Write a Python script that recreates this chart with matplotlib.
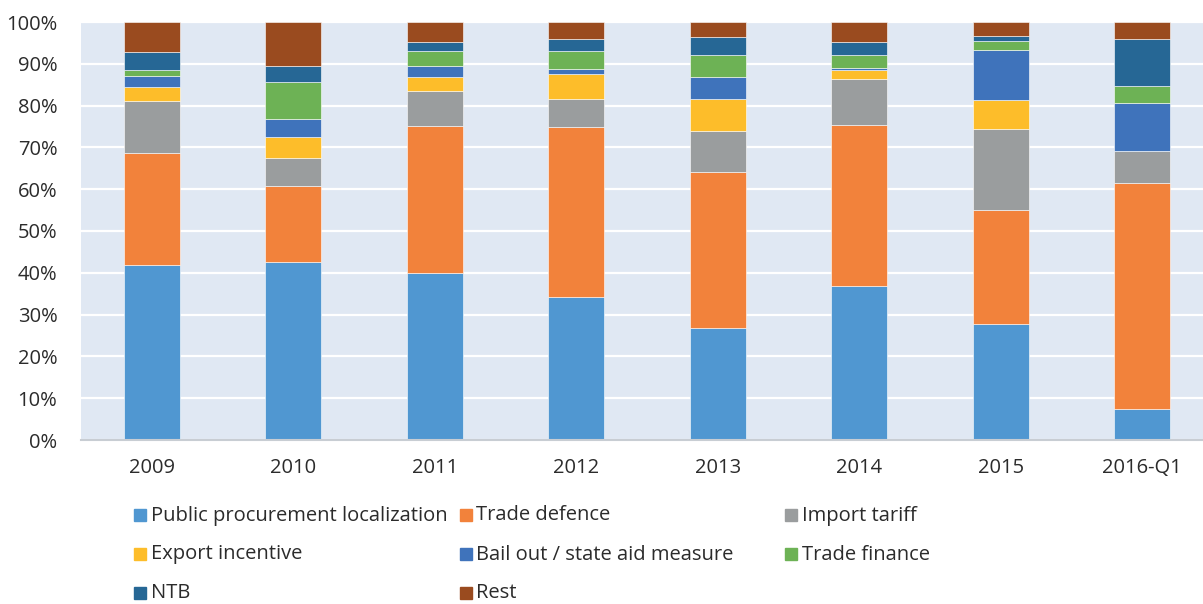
import numpy as np
import matplotlib
matplotlib.use('Agg')
import matplotlib.pyplot as plt
from matplotlib.patches import Rectangle

plt.rcParams['font.family'] = ['Open Sans', 'DejaVu Sans']

# 数据（单位：%）
years = ['2009', '2010', '2011', '2012', '2013', '2014', '2015', '2016-Q1']
series = ['Public procurement localization', 'Trade defence', 'Import tariff',
          'Export incentive', 'Bail out / state aid measure', 'Trade finance',
          'NTB', 'Rest']
public_proc = [41.9, 42.7, 40.0, 34.3, 26.7, 36.9, 27.8, 7.4]
trade_def = [26.8, 18.1, 35.2, 40.5, 37.5, 38.5, 27.3, 54.2]
import_tariff = [12.5, 6.7, 8.2, 6.8, 9.8, 11.0, 19.3, 7.5]
export_inc = [3.3, 5.0, 3.4, 6.0, 7.6, 2.0, 6.9, 0.0]
bail_out = [2.7, 4.2, 2.7, 1.2, 5.2, 0.7, 11.9, 11.6]
trade_fin = [1.2, 9.0, 3.5, 4.2, 5.4, 3.1, 2.3, 3.9]
ntb = [4.5, 3.8, 2.1, 2.9, 4.1, 2.9, 1.2, 11.3]
rest = [7.1, 10.5, 4.9, 4.1, 3.7, 4.9, 3.3, 4.1]

values = [public_proc, trade_def, import_tariff, export_inc,
          bail_out, trade_fin, ntb, rest]
colors = ['#5097D1', '#F2823B', '#9A9D9E', '#FDBD2A',
          '#3F73BB', '#6DB255', '#266795', '#9A4B1F']

W, H = 1203, 604
fig = plt.figure(figsize=(W / 100, H / 100), dpi=100)
ax = fig.add_axes([81 / W, 1 - 440 / H, (W - 81) / W, 418 / H])
ax.set_facecolor('#E0E8F3')

x = np.arange(len(years))
bottom = np.zeros(len(years))
for vals, c in zip(values, colors):
    vals = np.array(vals)
    ax.bar(x, vals, width=0.396, bottom=bottom, color=c,
           edgecolor='#FFFFFF', linewidth=0.4, zorder=3)
    bottom += vals

ax.set_xlim(-0.5, 7.43)
ax.set_ylim(0, 100)
ax.set_yticks(np.arange(0, 101, 10))
ax.set_yticklabels([f'{v}%' for v in range(0, 101, 10)])
ax.set_xticks(x)
ax.set_xticklabels(years)
ax.tick_params(axis='both', length=0, labelsize=14.5, colors='#2B2B2B')
ax.tick_params(axis='y', pad=17)
ax.tick_params(axis='x', pad=13)
ax.grid(axis='y', color='white', linewidth=1.6, zorder=1)
for s in ['top', 'right', 'left']:
    ax.spines[s].set_visible(False)
ax.spines['bottom'].set_color('#C8CDD3')
ax.spines['bottom'].set_linewidth(1.5)
ax.spines['bottom'].set_zorder(4)

# 图例（按行排列，三列等宽）
for i, (name, c) in enumerate(zip(series, colors)):
    row, col = i // 3, i % 3
    lx = 134 + 325.5 * col
    ly = 515 + 39 * row
    fig.patches.append(Rectangle((lx / W, 1 - (ly + 6) / H), 12 / W, 12 / H,
                                 transform=fig.transFigure, color=c))
    fig.text((lx + 17) / W, 1 - (ly + 0.5) / H, name, fontsize=14.5,
             color='#2B2B2B', va='center', ha='left')

fig.savefig('out.png', dpi=100)
